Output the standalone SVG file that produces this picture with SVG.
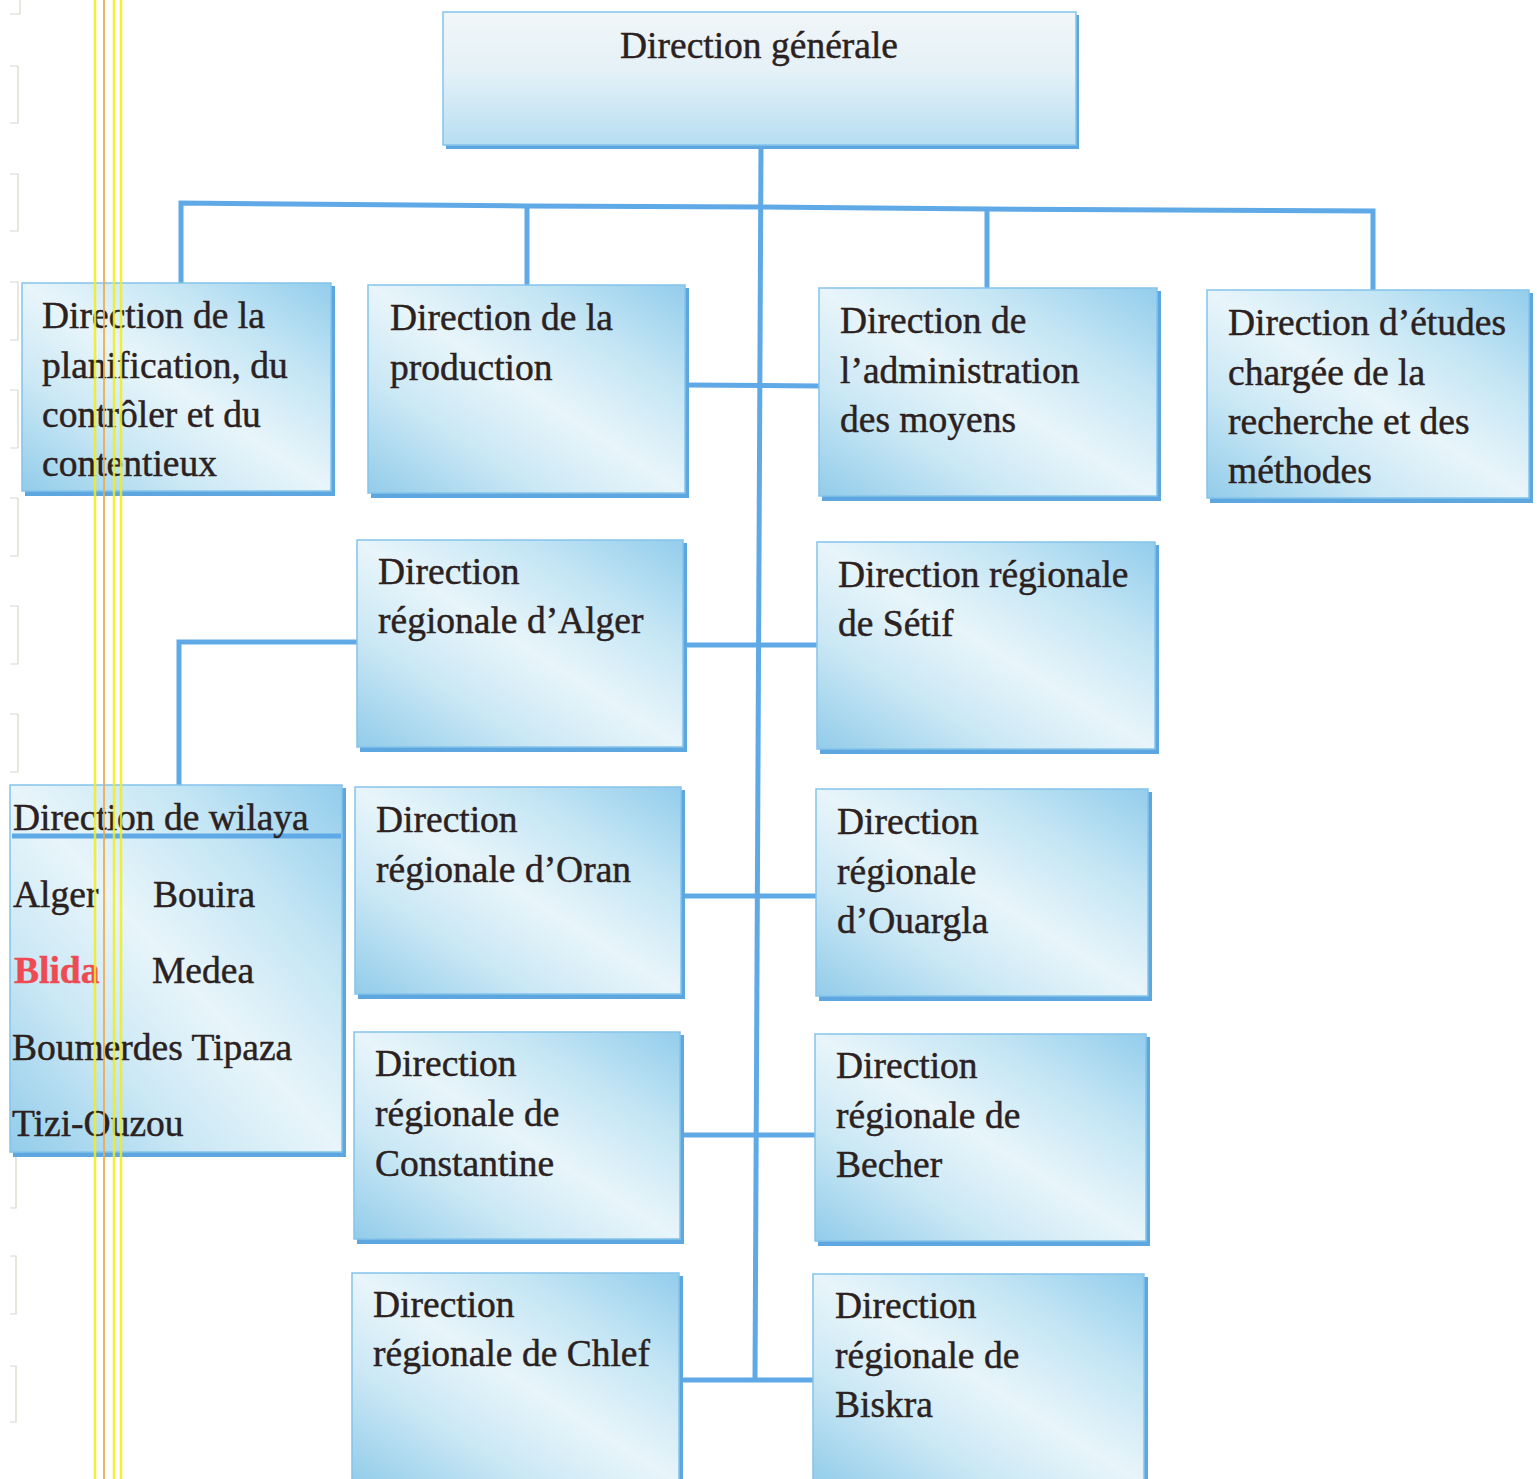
<svg xmlns="http://www.w3.org/2000/svg" width="1537" height="1479" viewBox="0 0 1537 1479">
<defs>
<linearGradient id="gBox" x1="1" y1="0" x2="0" y2="1">
<stop offset="0" stop-color="#93cdec"/>
<stop offset="0.25" stop-color="#c3e5f4"/>
<stop offset="0.5" stop-color="#e8f5fa"/>
<stop offset="0.72" stop-color="#cbe8f5"/>
<stop offset="1" stop-color="#92ccea"/>
</linearGradient>
<linearGradient id="gTop" x1="0" y1="0" x2="0" y2="1">
<stop offset="0" stop-color="#f1f6f8"/>
<stop offset="0.45" stop-color="#e4f1f7"/>
<stop offset="1" stop-color="#b6def2"/>
</linearGradient>
<style>
.shadow{fill:#5ea6e0}
.box{fill:url(#gBox);stroke:#84c3ea;stroke-width:1.5}
.top{fill:url(#gTop);stroke:#84c3ea;stroke-width:1.5}
.t{font-family:"Liberation Serif","Times New Roman",serif;font-size:37.5px;fill:#2b2121;stroke:#2b2121;stroke-width:0.45}
.con{fill:none;stroke:#5fa9e6;stroke-width:5;stroke-linejoin:miter}
.yl{stroke:#f2ee1a;stroke-width:2.5}
.ol{stroke:#f2a940;stroke-width:2}
.mk{fill:none;stroke:#d8d8cc;stroke-width:1.2}
</style>
</defs>
<rect width="1537" height="1479" fill="#ffffff"/>

<g id="margin">
<path class="mk" d="M20 0 V14 H10"/>
<path class="mk" d="M10 66 H18 V123 H10"/>
<path class="mk" d="M10 174 H18 V231 H10"/>
<path class="mk" d="M10 282 H18 V340 H10"/>
<path class="mk" d="M10 390 H18 V448 H10"/>
<path class="mk" d="M10 498 H18 V556 H10"/>
<path class="mk" d="M10 606 H18 V664 H10"/>
<path class="mk" d="M10 714 H18 V772 H10"/>
<path class="mk" d="M10 1152 H16 V1208 H10"/>
<path class="mk" d="M10 1256 H16 V1314 H10"/>
<path class="mk" d="M10 1366 H16 V1422 H10"/>
</g>

<g id="connectors">
<line class="con" x1="761" y1="146" x2="755" y2="1381"/>
<polyline class="con" points="181,283 181,203 527,206 761,207 987,209 1373,211 1373,290"/>
<line class="con" x1="527" y1="206" x2="527" y2="285"/>
<line class="con" x1="987" y1="209" x2="987" y2="288"/>
<line class="con" x1="686" y1="385" x2="819" y2="386"/>
<line class="con" x1="684" y1="645" x2="817" y2="645"/>
<polyline class="con" points="357,642 179,642 179,786"/>
<line class="con" x1="683" y1="896" x2="816" y2="896"/>
<line class="con" x1="682" y1="1135" x2="815" y2="1135"/>
<line class="con" x1="681" y1="1380" x2="813" y2="1380"/>
</g>

<g id="n-generale">
<rect class="shadow" x="446" y="15" width="633" height="134"/>
<rect class="top" x="443" y="12" width="633" height="133"/>
<text class="t" x="759" y="58" text-anchor="middle">Direction générale</text>
</g>

<g id="n-planification">
<rect class="shadow" x="25" y="286" width="310" height="210"/>
<rect class="box" x="22" y="283" width="309" height="208"/>
<text class="t" x="42" y="328">Direction de la</text>
<text class="t" x="42" y="378">planification, du</text>
<text class="t" x="42" y="427">contrôler et  du</text>
<text class="t" x="42" y="476">contentieux</text>
</g>

<g id="n-production">
<rect class="shadow" x="371" y="288" width="318" height="210"/>
<rect class="box" x="368" y="285" width="317" height="208"/>
<text class="t" x="390" y="330">Direction de la</text>
<text class="t" x="390" y="380">production</text>
</g>

<g id="n-administration">
<rect class="shadow" x="822" y="291" width="339" height="210"/>
<rect class="box" x="819" y="288" width="338" height="208"/>
<text class="t" x="840" y="333">Direction de</text>
<text class="t" x="840" y="383">l’administration</text>
<text class="t" x="840" y="432">des moyens</text>
</g>

<g id="n-etudes">
<rect class="shadow" x="1210" y="293" width="323" height="210"/>
<rect class="box" x="1207" y="290" width="322" height="208"/>
<text class="t" x="1228" y="335">Direction d’études</text>
<text class="t" x="1228" y="385">chargée de la</text>
<text class="t" x="1228" y="434">recherche et des</text>
<text class="t" x="1228" y="483">méthodes</text>
</g>

<g id="n-alger">
<rect class="shadow" x="360" y="543" width="327" height="209"/>
<rect class="box" x="357" y="540" width="326" height="207"/>
<text class="t" x="378" y="584">Direction</text>
<text class="t" x="378" y="633">régionale d’Alger</text>
</g>

<g id="n-setif">
<rect class="shadow" x="820" y="545" width="339" height="209"/>
<rect class="box" x="817" y="542" width="338" height="207"/>
<text class="t" x="838" y="587">Direction régionale</text>
<text class="t" x="838" y="636">de Sétif</text>
</g>

<g id="n-wilaya">
<rect class="shadow" x="13" y="788" width="333" height="369"/>
<rect class="box" x="10" y="785" width="332" height="367"/>
<line x1="12" y1="836" x2="341" y2="836" stroke="#5fa9e6" stroke-width="5"/>
<text class="t" x="13" y="830">Direction de wilaya</text>
<text class="t" x="13" y="907">Alger</text>
<text class="t" x="153" y="907">Bouira</text>
<text class="t" x="14" y="983" style="fill:#ee4a52;stroke:#ee4a52;font-weight:bold">Blida</text>
<text class="t" x="152" y="983">Medea</text>
<text class="t" x="12" y="1060">Boumerdes Tipaza</text>
<text class="t" x="12" y="1136">Tizi-Ouzou</text>
</g>

<g id="n-oran">
<rect class="shadow" x="358" y="790" width="327" height="209"/>
<rect class="box" x="355" y="787" width="326" height="207"/>
<text class="t" x="376" y="832">Direction</text>
<text class="t" x="376" y="882">régionale d’Oran</text>
</g>

<g id="n-ouargla">
<rect class="shadow" x="819" y="792" width="333" height="209"/>
<rect class="box" x="816" y="789" width="332" height="207"/>
<text class="t" x="837" y="834">Direction</text>
<text class="t" x="837" y="884">régionale</text>
<text class="t" x="837" y="933">d’Ouargla</text>
</g>

<g id="n-constantine">
<rect class="shadow" x="357" y="1035" width="327" height="209"/>
<rect class="box" x="354" y="1032" width="326" height="207"/>
<text class="t" x="375" y="1076">Direction</text>
<text class="t" x="375" y="1126">régionale de</text>
<text class="t" x="375" y="1176">Constantine</text>
</g>

<g id="n-becher">
<rect class="shadow" x="818" y="1037" width="332" height="209"/>
<rect class="box" x="815" y="1034" width="331" height="207"/>
<text class="t" x="836" y="1078">Direction</text>
<text class="t" x="836" y="1128">régionale de</text>
<text class="t" x="836" y="1177">Becher</text>
</g>

<g id="n-chlef">
<rect class="shadow" x="355" y="1276" width="328" height="210"/>
<rect class="box" x="352" y="1273" width="327" height="210"/>
<text class="t" x="373" y="1317">Direction</text>
<text class="t" x="373" y="1366">régionale de Chlef</text>
</g>

<g id="n-biskra">
<rect class="shadow" x="816" y="1277" width="332" height="210"/>
<rect class="box" x="813" y="1274" width="331" height="210"/>
<text class="t" x="835" y="1318">Direction</text>
<text class="t" x="835" y="1368">régionale de</text>
<text class="t" x="835" y="1417">Biskra</text>
</g>

<g id="scanlines" opacity="0.85">
<line class="yl" x1="95" y1="0" x2="95" y2="1479"/>
<line class="ol" x1="104" y1="0" x2="104" y2="1479"/>
<line class="yl" x1="114" y1="0" x2="114" y2="1479"/>
<line class="yl" x1="121" y1="0" x2="121" y2="1479" stroke-width="1.5"/>
</g>
</svg>
